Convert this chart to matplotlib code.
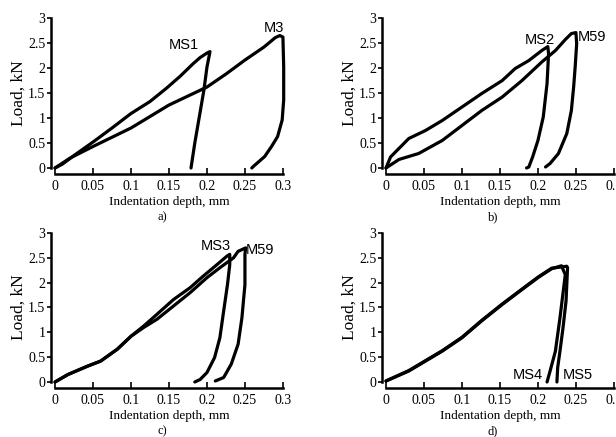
"""Load vs indentation depth curves, four panels a)-d)."""

import matplotlib
matplotlib.use("Agg")
import matplotlib.pyplot as plt

# tick values / labels
x_ticks = [0, 0.05, 0.1, 0.15, 0.2, 0.25, 0.3]
x_tick_labels = ["0", "0.05", "0.1", "0.15", "0.2", "0.25", "0.3"]
y_ticks = [0, 0.5, 1, 1.5, 2, 2.5, 3]
y_tick_labels = ["0", "0.5", "1", "1.5", "2", "2.5", "3"]

# panel a) MS1 and M3
ms1_x = [0, 0.01, 0.025, 0.051, 0.075, 0.1, 0.125, 0.147, 0.165, 0.182, 0.191, 0.2, 0.204,
         0.203, 0.2, 0.196, 0.19, 0.184, 0.179]
ms1_y = [0, 0.08, 0.25, 0.53, 0.8, 1.09, 1.33, 1.6, 1.84, 2.09, 2.21, 2.3, 2.33,
         2.25, 2.02, 1.56, 1.03, 0.5, 0]
m3_x = [0, 0.02, 0.05, 0.1, 0.15, 0.2, 0.225, 0.25, 0.275, 0.29, 0.296, 0.3,
        0.301, 0.301, 0.299, 0.293, 0.285, 0.276, 0.261, 0.259]
m3_y = [0, 0.2, 0.43, 0.8, 1.26, 1.62, 1.88, 2.16, 2.42, 2.61, 2.65, 2.62,
        2.02, 1.36, 0.96, 0.63, 0.43, 0.23, 0.03, 0]

# panel b) MS2 and M59
ms2_x = [0, 0.006, 0.03, 0.052, 0.074, 0.1, 0.126, 0.153, 0.17, 0.188, 0.205, 0.213,
         0.214, 0.212, 0.207, 0.2, 0.193, 0.188, 0.185]
ms2_y = [0, 0.22, 0.59, 0.75, 0.95, 1.22, 1.49, 1.75, 1.99, 2.15, 2.35, 2.43,
         2.29, 1.69, 1.02, 0.55, 0.22, 0.02, 0]
m59b_x = [0, 0.017, 0.043, 0.074, 0.1, 0.126, 0.153, 0.179, 0.205, 0.223, 0.236, 0.244, 0.25,
          0.251, 0.249, 0.247, 0.244, 0.238, 0.227, 0.216, 0.21]
m59b_y = [0, 0.17, 0.29, 0.55, 0.85, 1.15, 1.42, 1.75, 2.12, 2.35, 2.57, 2.69, 2.71,
          2.49, 2.02, 1.62, 1.15, 0.69, 0.29, 0.09, 0.02]

# panel c) MS3 and M59
ms3_x = [0, 0.017, 0.043, 0.06, 0.082, 0.1, 0.117, 0.134, 0.156, 0.178, 0.195, 0.213, 0.226, 0.23,
         0.23, 0.227, 0.222, 0.217, 0.21, 0.2, 0.191, 0.184]
ms3_y = [0, 0.15, 0.32, 0.42, 0.66, 0.92, 1.13, 1.36, 1.66, 1.9, 2.13, 2.36, 2.53, 2.57,
         2.36, 1.96, 1.43, 0.89, 0.49, 0.19, 0.05, 0]
m59c_x = [0, 0.017, 0.043, 0.06, 0.082, 0.1, 0.117, 0.134, 0.156, 0.178, 0.2, 0.217, 0.235, 0.241, 0.251,
          0.25, 0.25, 0.246, 0.241, 0.232, 0.222, 0.211]
m59c_y = [0, 0.15, 0.32, 0.42, 0.66, 0.92, 1.1, 1.26, 1.53, 1.8, 2.1, 2.3, 2.5, 2.63, 2.7,
          2.57, 1.96, 1.29, 0.76, 0.36, 0.09, 0.02]

# panel d) MS4 and MS5
ms4_x = [0, 0.03, 0.052, 0.074, 0.1, 0.126, 0.153, 0.179, 0.2, 0.218, 0.231,
         0.236, 0.229, 0.223, 0.216, 0.212]
ms4_y = [0.02, 0.22, 0.42, 0.62, 0.89, 1.23, 1.56, 1.86, 2.1, 2.28, 2.34,
         2.16, 1.29, 0.62, 0.22, 0]
ms5_x = [0, 0.03, 0.052, 0.074, 0.1, 0.126, 0.153, 0.179, 0.2, 0.218, 0.238,
         0.239, 0.237, 0.233, 0.229, 0.226, 0.225]
ms5_y = [0.02, 0.23, 0.43, 0.63, 0.9, 1.24, 1.57, 1.87, 2.11, 2.29, 2.33,
         2.3, 1.63, 1.09, 0.62, 0.29, 0]

panels = [
    ("a)", [(ms1_x, ms1_y), (m3_x, m3_y)], [("MS1", 0.170, 2.47), ("M3", 0.288, 2.81)]),
    ("b)", [(ms2_x, ms2_y), (m59b_x, m59b_y)], [("MS2", 0.203, 2.57), ("M59", 0.271, 2.62)]),
    ("c)", [(ms3_x, ms3_y), (m59c_x, m59c_y)], [("MS3", 0.212, 2.73), ("M59", 0.270, 2.66)]),
    ("d)", [(ms4_x, ms4_y), (ms5_x, ms5_y)], [("MS4", 0.187, 0.15), ("MS5", 0.253, 0.15)]),
]

plt.rcParams["font.family"] = "Liberation Serif"

fig = plt.figure(figsize=(6.16, 4.37), dpi=100)
positions = [
    [0.0893, 0.6156, 0.370, 0.343],
    [0.6266, 0.6156, 0.370, 0.343],
    [0.0893, 0.1259, 0.370, 0.341],
    [0.6266, 0.1259, 0.370, 0.341],
]
grid_color = "#d9d9d9"

for pos, (caption, curves, labels) in zip(positions, panels):
    ax = fig.add_axes(pos)
    for xs, ys in curves:
        ax.plot(xs, ys, color="black", linewidth=2.3, solid_joinstyle="round",
                solid_capstyle="round", clip_on=False, zorder=3)
    for text, lx, ly in labels:
        ax.text(lx, ly, text, ha="center", va="center", fontsize=10.5,
                family="Liberation Sans", zorder=4)

    ax.set_xlim(0, 0.3)
    ax.set_ylim(0, 3)
    ax.set_xticks(x_ticks)
    ax.set_xticklabels(x_tick_labels, fontsize=8)
    ax.set_yticks(y_ticks)
    ax.set_yticklabels(y_tick_labels, fontsize=10)
    ax.set_xticks([0, 0.1, 0.2, 0.3], minor=True)
    ax.set_yticks([1, 2, 3], minor=True)
    ax.grid(True, which="minor", color=grid_color, linewidth=0.9)
    ax.grid(False, which="major")
    ax.tick_params(which="minor", length=0)
    ax.tick_params(axis="x", which="major", direction="in", length=4, width=1.2, pad=5)
    ax.tick_params(axis="y", which="major", direction="out", length=3, width=1.2, pad=1)

    ax.spines["left"].set_position(("outward", 3))
    ax.spines["bottom"].set_position(("outward", 4))
    ax.spines["left"].set_linewidth(1.8)
    ax.spines["bottom"].set_linewidth(1.8)
    ax.spines["top"].set_visible(False)
    ax.spines["right"].set_visible(False)

    ax.set_xlabel("Indentation depth, mm", fontsize=9.5, labelpad=2)
    ax.set_ylabel("Load, kN", fontsize=12.5, labelpad=1)
    ax.text(0.47, -0.33, caption, transform=ax.transAxes, ha="center", va="center", fontsize=9)

plt.savefig("out.png", dpi=100)
plt.close()
